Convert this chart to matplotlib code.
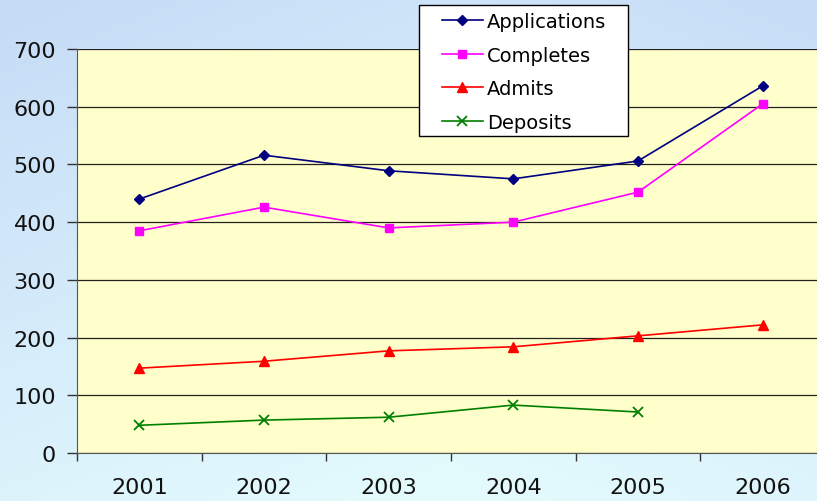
import numpy as np
import matplotlib
matplotlib.use("Agg")
import matplotlib.pyplot as plt
from matplotlib.colors import LinearSegmentedColormap
from matplotlib.patches import Rectangle

YEARS = ["2001", "2002", "2003", "2004", "2005", "2006"]
APPLICATIONS = [440, 516, 489, 475, 506, 636]
COMPLETES = [385, 426, 390, 400, 452, 605]
ADMITS = [147, 159, 177, 184, 203, 222]
DEPOSITS = [48, 57, 62, 83, 71]

plt.rcParams["font.family"] = ["DejaVu Sans"]

W, H = 817, 502
fig = plt.figure(figsize=(W / 100, H / 100), dpi=100)

# blue gradient background behind everything
bg = fig.add_axes([0, 0, 1, 1], zorder=-10)
bg.axis("off")
yy, xx = np.mgrid[0:1:200j, 0:1:300j]
horiz = np.abs(xx - 0.55) * 1.4
t = np.clip(0.75 * (1 - yy) + 0.35 * horiz, 0, 1)
cmap = LinearSegmentedColormap.from_list("bg", ["#e4fcfd", "#d6ecfb", "#c6dcf6"])
bg.imshow(t, cmap=cmap, aspect="auto", extent=(0, 1, 0, 1), vmin=0, vmax=1)
bg.set_xlim(0, 1)
bg.set_ylim(0, 1)

ax = fig.add_axes([77 / W, 1 - 454 / H, 748 / W, 404 / H])
ax.set_facecolor("#ffffcc")
x = np.arange(len(YEARS))

ax.plot(x, APPLICATIONS, color="#000080", marker="D", markersize=5.5, lw=1.2, label="Applications")
ax.plot(x, COMPLETES, color="#ff00ff", marker="s", markersize=6, lw=1.2, label="Completes")
ax.plot(x, ADMITS, color="#ff0000", marker="^", markersize=7.5, lw=1.2, label="Admits")
ax.plot(x[:len(DEPOSITS)], DEPOSITS, color="#008000", marker="x", markersize=7, mew=1.3, lw=1.2, label="Deposits")

ax.set_ylim(0, 700)
ax.set_yticks(range(0, 701, 100))
ax.set_xlim(-0.5, 5.5)
ax.set_xticks(x)
ax.set_xticklabels(YEARS)
ax.set_xticks(np.arange(-0.5, 5.6, 1), minor=True)
ax.tick_params(axis="x", which="major", length=0, pad=17, labelsize=16, colors="#111111")
ax.tick_params(axis="x", which="minor", length=6, width=1, color="#333333")
ax.tick_params(axis="y", length=7, width=1, color="#333333", labelsize=16, pad=8, labelcolor="#111111")
ax.grid(True, axis="y", color="#222222", lw=0.9)
ax.set_axisbelow(True)
for side in ["top", "right"]:
    ax.spines[side].set_visible(False)
ax.spines["left"].set_color("#555555")
ax.spines["bottom"].set_color("#555555")

# legend box drawn separately so its padding matches the original
box = Rectangle((419 / W, 1 - 137 / H), 209 / W, 131 / H, transform=fig.transFigure,
                facecolor="white", edgecolor="black", lw=1.0, zorder=19)
fig.patches.append(box)
handles, labels = ax.get_legend_handles_labels()
leg = fig.legend(handles, labels, loc="upper left", bbox_to_anchor=(442 / W, 1 - 13 / H),
                 bbox_transform=fig.transFigure, borderaxespad=0, frameon=False, fontsize=14,
                 handlelength=2.1, handletextpad=0.2, labelspacing=0.75, borderpad=0)
leg.set_zorder(20)

fig.savefig("out.png", dpi=100)
